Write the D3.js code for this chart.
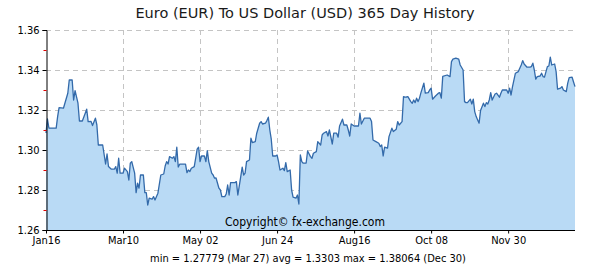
<!DOCTYPE html>
<html>
<head>
<meta charset="utf-8">
<script src="https://cdn.jsdelivr.net/npm/d3@7"></script>
<style>
  body { margin: 0; background: #fff; }
  svg { display: block; }
  .title { font-family: "DejaVu Sans", sans-serif; font-size: 14.5px; fill: #1a1a1a; }
  .lbl { font-family: "DejaVu Sans", sans-serif; font-stretch: condensed; font-size: 11px; fill: #000; }
  .grid line { stroke: #c4c4c4; stroke-dasharray: 5,4; }
</style>
</head>
<body>
<svg id="chart" width="600" height="270"></svg>
<script>
//data
const startDate = new Date(2013, 0, 16);
const dayOffsets = [0,1,2,7,8,9,12,15,16,18,19,20,22,23,25,27,28,29,31,32,34,35,36,39,41,42,43,45,47,48,
  49,50,51,53,54,56,57,58,59,61,62,63,64,65,67,68,69,70,71,73,74,75,77,79,81,82,83,84,85,87,
  88,89,90,91,92,96,97,98,99,100,102,103,104,105,106,107,109,110,111,112,114,115,116,117,119,120,121,123,124,125,
  126,127,130,131,132,134,135,136,137,138,140,141,142,144,145,147,148,149,151,152,153,154,155,156,158,159,160,161,163,164,
  165,166,168,169,170,172,173,174,175,176,177,179,180,182,183,184,186,187,189,190,191,193,194,195,197,198,200,201,202,204,
  205,207,208,209,210,212,215,216,217,219,223,224,225,227,229,230,231,232,233,235,236,238,239,241,242,243,245,246,247,248,
  249,251,252,253,254,255,256,257,258,260,261,263,264,265,266,268,270,271,272,273,276,278,279,280,282,284,285,287,288,289,
  290,292,293,294,295,296,298,299,301,302,303,304,305,306,307,309,310,312,313,314,317,318,319,320,321,323,325,326,327,328,
  329,331,333,334,335,336,337,338,340,341,342,343,345,346,347,348,350,351,352,354,355,356,358,359,360,362,363,364];
const rates = [1.3085,1.3155,1.3110,1.3109,1.3167,1.3212,1.3209,1.3284,1.3350,1.3350,1.3250,1.3297,1.3234,1.3145,1.3145,1.3184,1.3204,1.3142,1.3143,1.3122,
  1.3159,1.3125,1.3025,1.3025,1.2930,1.2980,1.2917,1.2904,1.2904,1.2917,1.2884,1.2959,1.2884,1.2884,1.2909,1.2892,1.2850,1.2934,1.2942,1.2884,
  1.2787,1.2834,1.2809,1.2875,1.2875,1.2787,1.2787,1.2725,1.2759,1.2754,1.2767,1.2750,1.2784,1.2875,1.2880,1.2920,1.2942,1.2930,1.2967,1.2959,
  1.2967,1.2942,1.3014,1.2915,1.2929,1.2929,1.2887,1.2900,1.2892,1.2909,1.2917,1.2959,1.3004,1.3014,1.2942,1.2970,1.2970,1.2942,1.2997,1.2942,
  1.2884,1.2875,1.2859,1.2860,1.2809,1.2800,1.2767,1.2767,1.2780,1.2825,1.2775,1.2837,1.2837,1.2842,1.2775,1.2867,1.2914,1.2875,1.2884,1.2942,
  1.2950,1.3059,1.3037,1.3042,1.3084,1.3134,1.3142,1.3130,1.3134,1.3147,1.3164,1.3100,1.3054,1.2970,1.2970,1.2975,1.2942,1.2900,1.2909,1.2897,
  1.2937,1.2892,1.2900,1.2800,1.2764,1.2759,1.2775,1.2730,1.2975,1.2942,1.2934,1.2935,1.2995,1.2967,1.2959,1.2984,1.2992,1.3042,1.3025,1.3075,
  1.3084,1.3092,1.3070,1.3100,1.3030,1.3084,1.3084,1.3064,1.3120,1.3154,1.3125,1.3125,1.3100,1.3070,1.3130,1.3120,1.3120,1.3184,1.3130,1.3159,
  1.3159,1.3142,1.3050,1.3042,1.3034,1.3017,1.3025,1.2970,1.3014,1.3009,1.3067,1.3109,1.3092,1.3104,1.3142,1.3125,1.3142,1.3267,1.3264,1.3265,
  1.3267,1.3242,1.3234,1.3250,1.3237,1.3259,1.3242,1.3259,1.3287,1.3334,1.3284,1.3287,1.3300,1.3309,1.3254,1.3270,1.3284,1.3287,1.3259,1.3368,
  1.3375,1.3367,1.3442,1.3454,1.3459,1.3454,1.3425,1.3400,1.3242,1.3237,1.3237,1.3254,1.3230,1.3254,1.3192,1.3167,1.3134,1.3197,1.3234,1.3217,
  1.3237,1.3230,1.3250,1.3287,1.3250,1.3280,1.3284,1.3264,1.3284,1.3300,1.3300,1.3284,1.3309,1.3275,1.3317,1.3384,1.3392,1.3409,1.3425,1.3447,
  1.3430,1.3414,1.3414,1.3417,1.3434,1.3400,1.3354,1.3367,1.3370,1.3384,1.3367,1.3364,1.3417,1.3420,1.3464,1.3425,1.3430,1.3392,1.3304,1.3309,
  1.3317,1.3300,1.3292,1.3334,1.3362,1.3364,1.3340,1.3317];
const yTicks = [1.26, 1.28, 1.30, 1.32, 1.34, 1.36];
const yMinorTicks = [1.27, 1.29, 1.31, 1.33, 1.35];
const xTickOffsets = [0, 53, 106, 159, 212, 265, 318];
const xTickLabels = ['Jan16', 'Mar10', 'May 02', 'Jun 24', 'Aug16', 'Oct 08', 'Nov 30'];
const titleText = 'Euro (EUR) To US Dollar (USD) 365 Day History';
const copyrightText = 'Copyright\u00a9 fx-exchange.com';
const statsText = 'min = 1.27779 (Mar 27)  avg = 1.3303  max = 1.38064 (Dec 30)';

//layout
const M = { left: 46, right: 25, top: 30, bottom: 40 };
const W = 600, H = 270;

const svg = d3.select('#chart');
const series = dayOffsets.map((d, i) => ({ date: d3.timeDay.offset(startDate, d), v: rates[i] }));

const x = d3.scaleTime()
  .domain([startDate, d3.timeDay.offset(startDate, 364)])
  .range([M.left, W - M.right]);
const y = d3.scaleLinear()
  .domain([1.26, 1.36])
  .range([H - M.bottom, M.top]);

// title
svg.append('text')
  .attr('class', 'title')
  .attr('x', 305).attr('y', 18)
  .attr('text-anchor', 'middle')
  .text(titleText);

// grid
const grid = svg.append('g').attr('class', 'grid');
grid.selectAll('.hg')
  .data(yTicks.slice(1))
  .join('line')
  .attr('x1', M.left).attr('x2', W - M.right)
  .attr('y1', d => Math.round(y(d)) + 0.5).attr('y2', d => Math.round(y(d)) + 0.5);
grid.selectAll('.vg')
  .data(xTickOffsets.slice(1))
  .join('line')
  .attr('x1', d => Math.round(x(d3.timeDay.offset(startDate, d))) + 0.5)
  .attr('x2', d => Math.round(x(d3.timeDay.offset(startDate, d))) + 0.5)
  .attr('y1', M.top).attr('y2', H - M.bottom);

// area + line
const area = d3.area()
  .x(d => x(d.date))
  .y0(y(1.26))
  .y1(d => y(d.v));
const line = d3.line()
  .x(d => x(d.date))
  .y(d => y(d.v));

svg.append('path')
  .datum(series)
  .attr('fill', '#b9daf5')
  .attr('d', area);
svg.append('path')
  .datum(series)
  .attr('fill', 'none')
  .attr('stroke', '#336aaa')
  .attr('stroke-width', 1.3)
  .attr('stroke-linejoin', 'round')
  .attr('d', line);

// y axis
const yAxis = d3.axisLeft(y)
  .tickValues(yTicks)
  .tickSize(4)
  .tickPadding(3)
  .tickFormat(d3.format('.2f'));
const gy = svg.append('g')
  .attr('transform', `translate(${M.left + 0.5},0)`)
  .call(yAxis);
gy.select('.domain').attr('stroke', '#000');
gy.selectAll('.tick line').attr('stroke', '#000');
gy.selectAll('.tick text').attr('class', 'lbl').attr('fill', null);

gy.selectAll('.minor')
  .data(yMinorTicks)
  .join('line')
  .attr('x1', -3).attr('x2', 0)
  .attr('y1', d => Math.round(y(d)) + 0.5).attr('y2', d => Math.round(y(d)) + 0.5)
  .attr('stroke', '#e00000');

// x axis
const xAxis = d3.axisBottom(x)
  .tickValues(xTickOffsets.map(d => d3.timeDay.offset(startDate, d)))
  .tickSize(3)
  .tickPadding(3)
  .tickFormat((d, i) => xTickLabels[i]);
const gx = svg.append('g')
  .attr('transform', `translate(0,${H - M.bottom + 0.5})`)
  .call(xAxis);
gx.select('.domain').attr('stroke', '#000').attr('d', `M${M.left},0H${W - M.right}`);
gx.selectAll('.tick line').attr('stroke', '#000');
gx.selectAll('.tick text').attr('class', 'lbl').attr('fill', null);

// texts
svg.append('text')
  .attr('class', 'lbl')
  .attr('x', 305).attr('y', 226)
  .attr('text-anchor', 'middle')
  .style('font-size', '12px')
  .text(copyrightText);

svg.append('text')
  .attr('class', 'lbl')
  .attr('x', 308).attr('y', 262)
  .attr('text-anchor', 'middle')
  .text(statsText);
</script>
</body>
</html>
